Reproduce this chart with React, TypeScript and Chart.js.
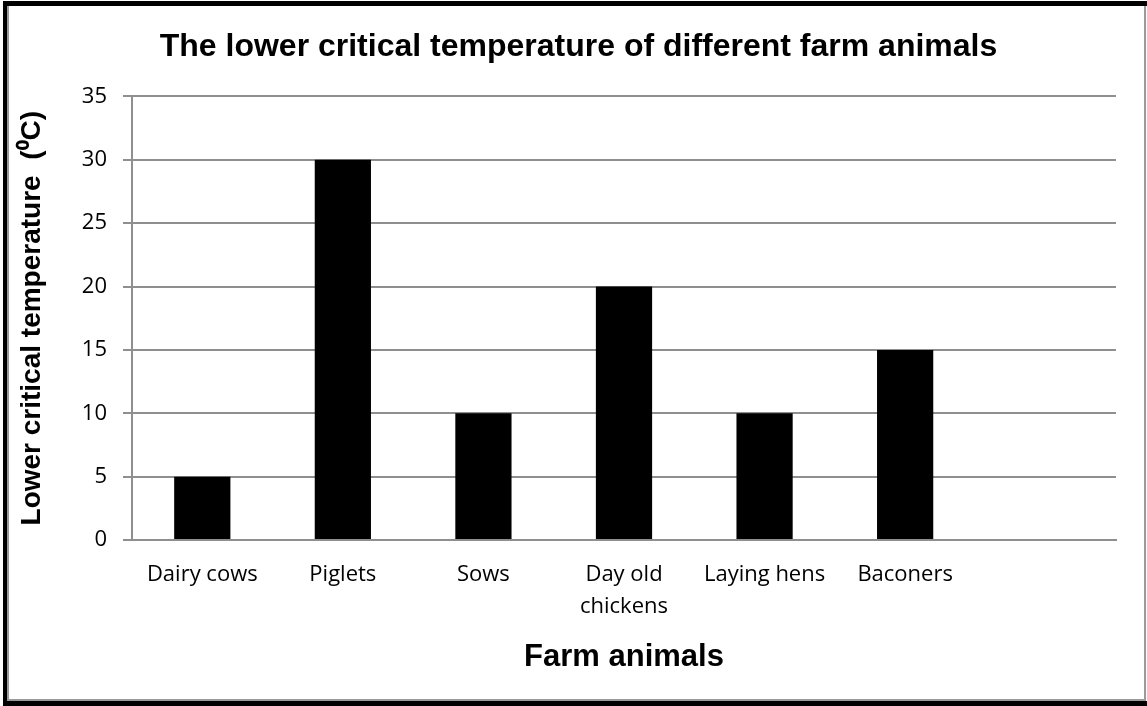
import React, { useEffect, useRef } from "react";
import { Chart, registerables } from "chart.js";

Chart.register(...registerables);

const chartTitle = "The lower critical temperature of different farm animals";
const xAxisTitle = "Farm animals";
const yAxisTitle = "Lower critical temperature  (⁰C)";
const categories: (string | string[])[] = [
  "Dairy cows",
  "Piglets",
  "Sows",
  ["Day old", "chickens"],
  "Laying hens",
  "Baconers",
  "",
];
const temperatures: (number | null)[] = [5, 30, 10, 20, 10, 15, null];
const yMin = 0;
const yMax = 35;
const yStep = 5;

const GRID = "#8f8f8f";

const framePlugin = {
  id: "frame",
  beforeDraw(chart: any) {
    const { ctx, width, height } = chart;
    ctx.save();
    ctx.fillStyle = "#ffffff";
    ctx.fillRect(0, 0, width, height);
    ctx.fillStyle = "#000000";
    ctx.fillRect(4, 1, width - 4, 5);
    ctx.fillRect(3, 1, 4, height - 1);
    ctx.fillRect(3, height - 5, width - 3, 5);
    ctx.fillStyle = "#9a9a9a";
    ctx.fillRect(7, 6, 2, height - 12);
    ctx.fillRect(7, height - 7, width - 9, 2);
    ctx.fillRect(width - 3, 6, 2, height - 11);
    ctx.restore();
  },
};

export default function App() {
  const canvasRef = useRef<HTMLCanvasElement | null>(null);

  useEffect(() => {
    if (!canvasRef.current) return;
    const chart = new Chart(canvasRef.current, {
      type: "bar",
      data: {
        labels: categories,
        datasets: [
          {
            data: temperatures,
            backgroundColor: "#000000",
            borderWidth: 0,
            barPercentage: 0.4,
            categoryPercentage: 1.0,
          },
        ],
      },
      plugins: [framePlugin],
      options: {
        responsive: false,
        animation: false,
        events: [],
        layout: { padding: { left: 41, right: 31, top: 0, bottom: 20 } },
        plugins: {
          legend: { display: false },
          tooltip: { enabled: false },
          title: {
            display: true,
            text: chartTitle,
            color: "#000000",
            font: { family: "'Liberation Sans', Arial, sans-serif", size: 32, weight: "bold", lineHeight: 1.2 },
            padding: { top: 28, bottom: 30 },
          },
        },
        scales: {
          x: {
            grid: { display: false, drawTicks: false },
            border: { display: true, color: GRID, width: 2 },
            ticks: {
              color: "#000000",
              padding: 19,
              maxRotation: 0,
              autoSkip: false,
              font: { family: "'Open Sans', sans-serif", size: 22, lineHeight: 1.45 },
            },
            title: {
              display: true,
              text: xAxisTitle,
              color: "#000000",
              font: { family: "'Liberation Sans', Arial, sans-serif", size: 31, weight: "bold", lineHeight: 1.2 },
              padding: { top: 0, bottom: 10 },
            },
            afterFit(scale: any) {
              scale.height = 146;
            },
          },
          y: {
            min: yMin,
            max: yMax,
            ticks: {
              stepSize: yStep,
              color: "#000000",
              padding: 16,
              font: { family: "'Open Sans', sans-serif", size: 22 },
            },
            grid: { color: GRID, lineWidth: 2, tickLength: 9, drawTicks: true },
            border: { display: true, color: GRID, width: 2 },
            title: {
              display: true,
              text: yAxisTitle,
              color: "#000000",
              font: { family: "'Liberation Sans', Arial, sans-serif", size: 28, weight: "bold", lineHeight: 1.2 },
              padding: { top: -26, bottom: 0 },
            },
            afterFit(scale: any) {
              scale.width = 91;
            },
          },
        },
      },
    });
    return () => chart.destroy();
  }, []);

  return (
    <div style={{ position: "fixed", left: 0, top: 0, width: 1147, height: 706, background: "#fff" }}>
      <canvas ref={canvasRef} width={1147} height={706} style={{ display: "block" }} />
    </div>
  );
}
